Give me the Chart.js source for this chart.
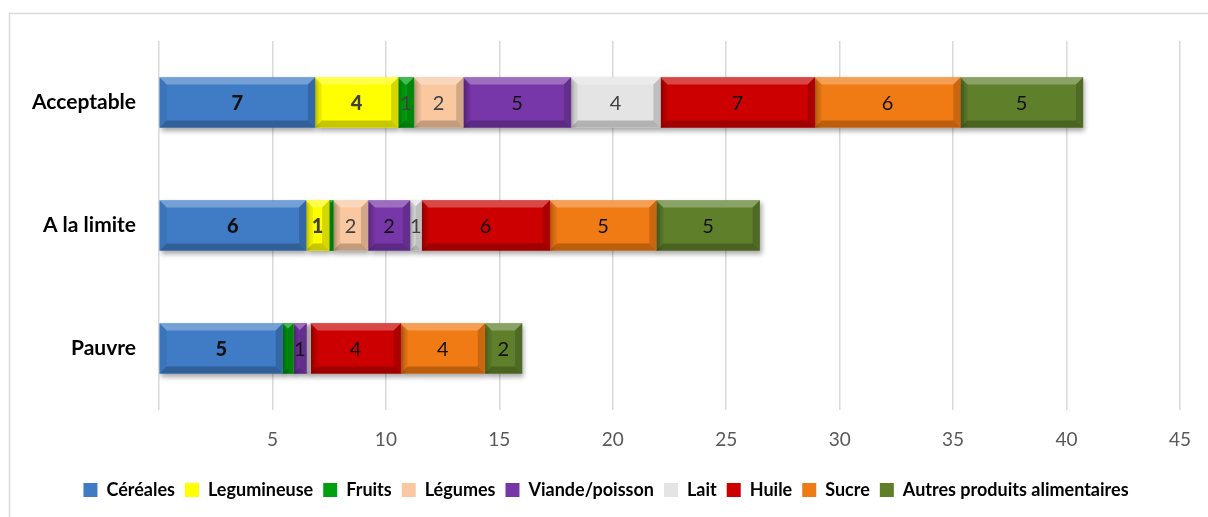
<!DOCTYPE html>
<html>
<head>
<meta charset="utf-8">
<script src="https://cdn.jsdelivr.net/npm/chart.js@4"></script>
<style>
  html, body { margin: 0; padding: 0; background: #fff; }
  #wrap { width: 1208px; height: 517px; }
</style>
</head>
<body>
<div id="wrap"><canvas id="foodChart" width="1208" height="517"></canvas></div>
<script>
// --- data ---
const categories = ['Acceptable', 'A la limite', 'Pauvre'];
const cereales = [6.87, 6.48, 5.45];
const legumineuse = [3.67, 1.02, 0];
const fruits = [0.69, 0.18, 0.47];
const legumes = [2.18, 1.53, 0];
const viande = [4.74, 1.85, 0.58];
const lait = [3.95, 0.51, 0.18];
const huile = [6.80, 5.65, 3.97];
const sucre = [6.42, 4.70, 3.71];
const autres = [5.40, 4.55, 1.64];
const xTicks = [5, 10, 15, 20, 25, 30, 35, 40, 45];

const seriesDefs = [
    { label: 'Céréales', data: cereales, color: '#3F7CC5', text: '#111', bold: true },
    { label: 'Legumineuse', data: legumineuse, color: '#FFFF00', text: '#404040', bold: true },
    { label: 'Fruits', data: fruits, color: '#00A010', text: '#404040', bold: false },
    { label: 'Légumes', data: legumes, color: '#F9C8A0', text: '#404040', bold: false },
    { label: 'Viande/poisson', data: viande, color: '#7837A8', text: '#111', bold: false },
    { label: 'Lait', data: lait, color: '#E4E4E4', text: '#404040', bold: false },
    { label: 'Huile', data: huile, color: '#CC0000', text: '#111', bold: false },
    { label: 'Sucre', data: sucre, color: '#F07A13', text: '#111', bold: false },
    { label: 'Autres produits alimentaires', data: autres, color: '#5F7F2B', text: '#111', bold: false }
];

const FONT = 'Lato, "Open Sans", sans-serif';

// outer frame like the spreadsheet chart border
const framePlugin = {
    id: 'frame',
    beforeDraw(chart) {
        const ctx = chart.ctx;
        ctx.save();
        ctx.strokeStyle = '#D9D9D9';
        ctx.lineWidth = 1.5;
        ctx.strokeRect(9.5, 13.5, 1400, 700);
        ctx.restore();
    }
};

// nudge the legend a bit to the right, as in the original
const legendShift = {
    id: 'legendShift',
    afterLayout(chart) {
        if (chart.legend) {
            chart.legend.left += 16;
            chart.legend.right += 16;
        }
    }
};

// soft shadow under bars
const shadowPlugin = {
    id: 'barShadow',
    beforeDatasetDraw(chart) {
        const ctx = chart.ctx;
        ctx.save();
        ctx.shadowColor = 'rgba(0,0,0,0.35)';
        ctx.shadowBlur = 5;
        ctx.shadowOffsetX = 2;
        ctx.shadowOffsetY = 3;
    },
    afterDatasetDraw(chart) {
        chart.ctx.restore();
    }
};

// bevel look + value labels
const bevelPlugin = {
    id: 'bevel',
    afterDatasetsDraw(chart) {
        const ctx = chart.ctx;
        chart.data.datasets.forEach((ds, i) => {
            const meta = chart.getDatasetMeta(i);
            meta.data.forEach((bar, j) => {
                const v = ds.data[j];
                if (!v) return;
                const L = Math.min(bar.base, bar.x), R = Math.max(bar.base, bar.x);
                const T = bar.y - bar.height / 2, B = bar.y + bar.height / 2;
                const b = Math.min(7, (R - L) / 2);
                const poly = (pts, fill) => {
                    ctx.beginPath();
                    ctx.moveTo(pts[0][0], pts[0][1]);
                    for (let k = 1; k < pts.length; k++) ctx.lineTo(pts[k][0], pts[k][1]);
                    ctx.closePath();
                    ctx.fillStyle = fill;
                    ctx.fill();
                };
                ctx.save();
                poly([[L, T], [R, T], [R - b, T + b], [L + b, T + b]], 'rgba(255,255,255,0.28)');
                poly([[L, B], [R, B], [R - b, B - b], [L + b, B - b]], 'rgba(0,0,0,0.22)');
                poly([[L, T], [L + b, T + b], [L + b, B - b], [L, B]], 'rgba(0,0,0,0.06)');
                poly([[R, T], [R - b, T + b], [R - b, B - b], [R, B]], 'rgba(0,0,0,0.16)');
                ctx.restore();

                const shown = Math.round(v);
                if (shown === 0) return;
                const def = seriesDefs[i];
                ctx.save();
                ctx.font = (def.bold ? '900 ' : '') + '20px ' + FONT;
                ctx.fillStyle = def.text;
                ctx.textAlign = 'center';
                ctx.textBaseline = 'middle';
                ctx.fillText(String(shown), (L + R) / 2, bar.y + 1);
                ctx.restore();
            });
        });
    }
};

new Chart(document.getElementById('foodChart'), {
    type: 'bar',
    data: {
        labels: categories,
        datasets: seriesDefs.map(d => ({
            label: d.label,
            data: d.data,
            backgroundColor: d.color,
            borderColor: d.color,
            borderWidth: 0,
            barThickness: 50
        }))
    },
    options: {
        indexAxis: 'y',
        responsive: false,
        animation: false,
        layout: { padding: { left: 0, top: 41, right: 28, bottom: 8 } },
        plugins: {
            tooltip: { enabled: false },
            legend: {
                position: 'bottom',
                labels: {
                    color: '#000',
                    font: { family: FONT, size: 18, weight: 'bold' },
                    boxWidth: 14,
                    boxHeight: 14,
                    padding: 10
                }
            }
        },
        scales: {
            x: {
                stacked: true,
                min: 0,
                max: 45,
                afterBuildTicks(scale) {
                    scale.ticks = [0].concat(xTicks).map(v => ({ value: v }));
                },
                afterFit(scale) {
                    scale.height = 61;
                    scale.paddingLeft = 0;
                    scale.paddingRight = 0;
                },
                grid: { color: '#D9D9D9', lineWidth: 1.5, drawTicks: false },
                border: { display: false },
                ticks: {
                    padding: 18,
                    color: '#595959',
                    font: { family: FONT, size: 19 },
                    callback: v => (v === 0 ? '' : v)
                }
            },
            y: {
                stacked: true,
                afterFit(scale) { scale.width = 159; },
                grid: { display: false, drawTicks: false },
                border: { display: false },
                ticks: {
                    padding: 23,
                    color: '#000',
                    font: { family: FONT, size: 21, weight: 'bold' }
                }
            }
        }
    },
    plugins: [framePlugin, legendShift, shadowPlugin, bevelPlugin]
});
</script>
</body>
</html>
